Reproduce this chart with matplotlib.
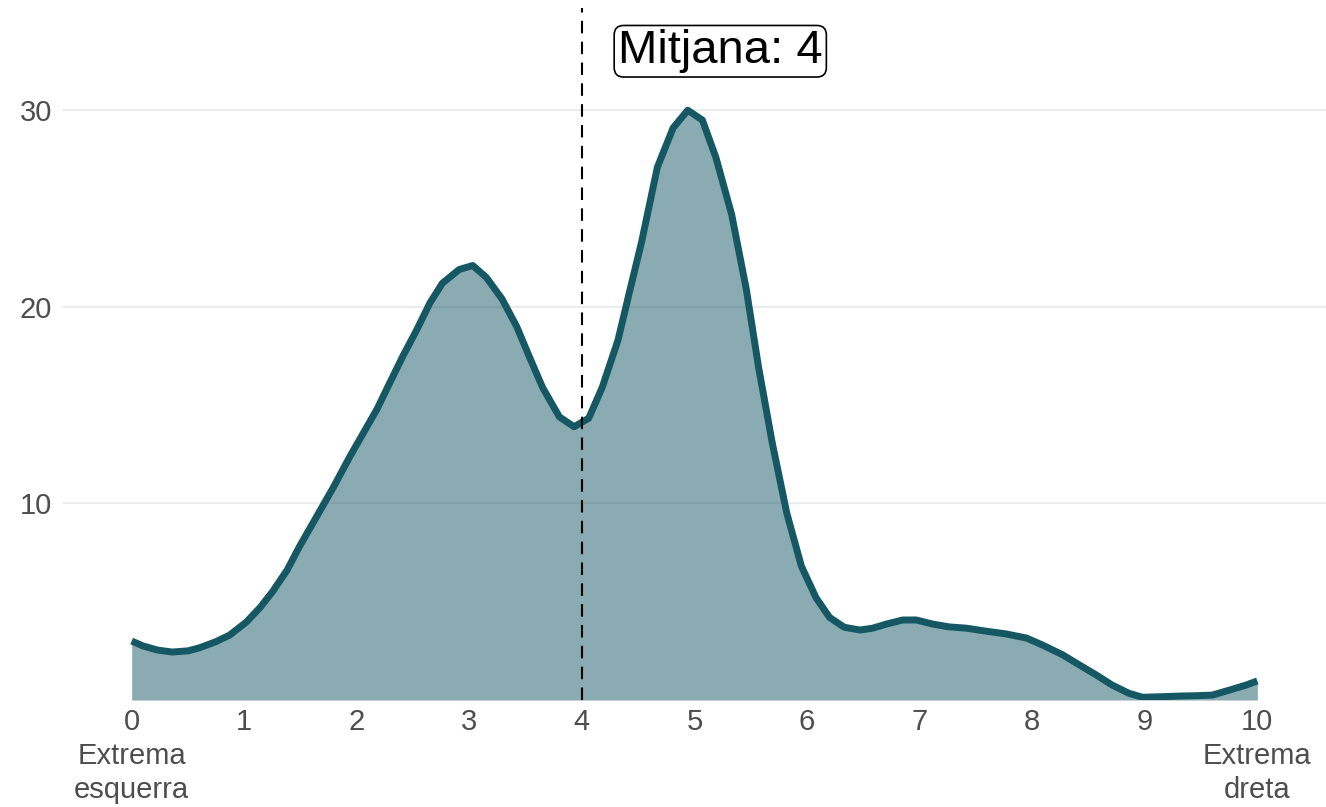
import matplotlib
matplotlib.use("Agg")
import matplotlib.pyplot as plt

# =========================
# Data
# =========================
ideologia = [0, 0.1, 0.23, 0.36, 0.5, 0.6, 0.75, 0.87, 1.02, 1.14, 1.25, 1.38,
             1.49, 1.64, 1.79, 1.94, 2.02, 2.18, 2.29, 2.41, 2.53, 2.65,
             2.76, 2.91, 3.03, 3.15, 3.29, 3.42, 3.53, 3.65, 3.8, 3.93,
             4.06, 4.18, 4.32, 4.42, 4.53, 4.67, 4.81, 4.94, 5.07, 5.19,
             5.33, 5.46, 5.57, 5.69, 5.82, 5.95, 6.08, 6.2, 6.33, 6.47,
             6.58, 6.71, 6.85, 6.97, 7.11, 7.26, 7.42, 7.59, 7.77, 7.95,
             8.09, 8.27, 8.42, 8.57, 8.71, 8.86, 8.98, 9.16, 9.31, 9.46,
             9.6, 9.75, 9.9, 10.0]
percentatge = [3.0, 2.75, 2.54, 2.44, 2.5, 2.65, 2.97, 3.3, 3.97, 4.7, 5.5, 6.6,
               7.8, 9.3, 10.8, 12.4, 13.2, 14.8, 16.1, 17.5, 18.8, 20.2,
               21.2, 21.9, 22.1, 21.5, 20.4, 19.0, 17.5, 15.9, 14.4, 13.9,
               14.33, 15.9, 18.3, 20.7, 23.3, 27.1, 29.1, 30.0, 29.5, 27.6,
               24.7, 20.9, 16.9, 13.1, 9.5, 6.8, 5.2, 4.2, 3.7, 3.56,
               3.65, 3.87, 4.07, 4.07, 3.87, 3.72, 3.65, 3.5, 3.36, 3.15,
               2.8, 2.3, 1.78, 1.27, 0.76, 0.34, 0.14, 0.17, 0.2, 0.22,
               0.25, 0.5, 0.76, 0.97]

mitjana = 4
etiqueta = "Mitjana: 4"
x_ticks = list(range(11))
x_labels = ["0\nExtrema\nesquerra"] + [str(i) for i in range(1, 10)] + ["10\nExtrema\ndreta"]
y_ticks = [10, 20, 30]

# =========================
# Style
# =========================
color = "#155864"
text_grey = "#4D4D4D"
plt.rcParams["font.family"] = ["Liberation Sans", "DejaVu Sans"]

fig = plt.figure(figsize=(13.26, 8.07), dpi=100)
ax = fig.add_axes([63 / 1326, 107 / 807, 1263 / 1326, 692 / 807])

ax.fill_between(ideologia, 0, percentatge, color=color, alpha=0.5, lw=0, zorder=2)
ax.plot(ideologia, percentatge, color=color, lw=5, solid_capstyle="butt",
        solid_joinstyle="round", zorder=3)
ax.axvline(mitjana, color="black", lw=1.5, linestyle=(0, (6, 4)), zorder=4)

ax.text(4.32, 33.0, etiqueta, fontsize=34, color="black", ha="left", va="center",
        bbox=dict(boxstyle="round,pad=0.08,rounding_size=0.2", fc="white",
                  ec="black", lw=1.2), zorder=5)

ax.set_xlim(-0.61, 10.61)
ax.set_ylim(0, 35.2)
ax.set_xticks(x_ticks)
ax.set_xticklabels(x_labels, linespacing=1.27)
ax.set_yticks(y_ticks)
ax.tick_params(axis="both", length=0, labelsize=21, labelcolor=text_grey)
ax.tick_params(axis="x", pad=6)
ax.tick_params(axis="y", pad=8)

ax.grid(axis="y", color="#EBEBEB", lw=1.5, zorder=0)
ax.set_axisbelow(True)
for s in ax.spines.values():
    s.set_visible(False)

fig.savefig("out.png", dpi=100)
